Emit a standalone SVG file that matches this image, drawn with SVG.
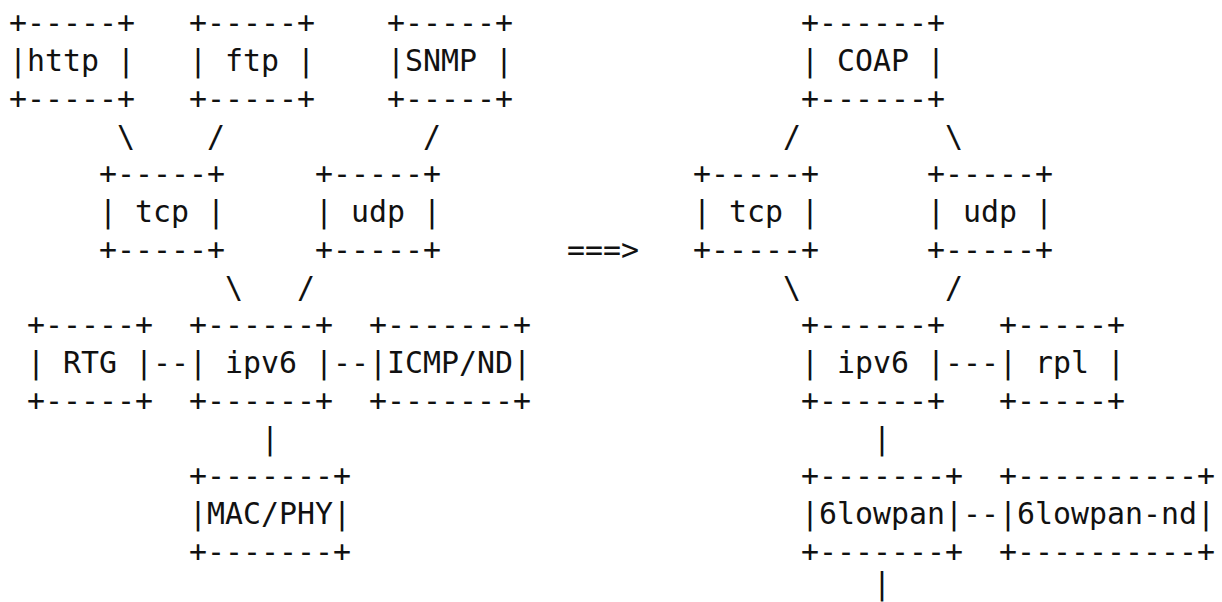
<svg xmlns="http://www.w3.org/2000/svg" width="1222" height="602" viewBox="0 0 1222 602">
<style>
text{font-family:"DejaVu Sans Mono","Liberation Mono",monospace;font-size:29.9px;fill:#111;white-space:pre}
</style>
<rect width="1222" height="602" fill="#fff"/>
<g id="http">
<text x="9" y="33.2">+-----+</text>
<text x="9" y="71">|http |</text>
<text x="9" y="108.7">+-----+</text>
</g>
<g id="ftp">
<text x="189" y="33.2">+-----+</text>
<text x="189" y="71">| ftp |</text>
<text x="189" y="108.7">+-----+</text>
</g>
<g id="snmp">
<text x="387" y="33.2">+-----+</text>
<text x="387" y="71">|SNMP |</text>
<text x="387" y="108.7">+-----+</text>
</g>
<g id="coap">
<text x="801" y="33.2">+------+</text>
<text x="801" y="71">| COAP |</text>
<text x="801" y="108.7">+------+</text>
</g>
<g id="tcp-left">
<text x="99" y="184.2">+-----+</text>
<text x="99" y="222">| tcp |</text>
<text x="99" y="259.7">+-----+</text>
</g>
<g id="udp-left">
<text x="315" y="184.2">+-----+</text>
<text x="315" y="222">| udp |</text>
<text x="315" y="259.7">+-----+</text>
</g>
<g id="tcp-right">
<text x="693" y="184.2">+-----+</text>
<text x="693" y="222">| tcp |</text>
<text x="693" y="259.7">+-----+</text>
</g>
<g id="udp-right">
<text x="927" y="184.2">+-----+</text>
<text x="927" y="222">| udp |</text>
<text x="927" y="259.7">+-----+</text>
</g>
<g id="rtg">
<text x="27" y="335.2">+-----+</text>
<text x="27" y="373">| RTG |</text>
<text x="27" y="410.7">+-----+</text>
</g>
<g id="ipv6-left">
<text x="189" y="335.2">+------+</text>
<text x="189" y="373">| ipv6 |</text>
<text x="189" y="410.7">+------+</text>
</g>
<g id="icmp-nd">
<text x="369" y="335.2">+-------+</text>
<text x="369" y="373">|ICMP/ND|</text>
<text x="369" y="410.7">+-------+</text>
</g>
<g id="ipv6-right">
<text x="801" y="335.2">+------+</text>
<text x="801" y="373">| ipv6 |</text>
<text x="801" y="410.7">+------+</text>
</g>
<g id="rpl">
<text x="999" y="335.2">+-----+</text>
<text x="999" y="373">| rpl |</text>
<text x="999" y="410.7">+-----+</text>
</g>
<g id="mac-phy">
<text x="189" y="486.2">+-------+</text>
<text x="189" y="524">|MAC/PHY|</text>
<text x="189" y="561.7">+-------+</text>
</g>
<g id="6lowpan">
<text x="801" y="486.2">+-------+</text>
<text x="801" y="524">|6lowpan|</text>
<text x="801" y="561.7">+-------+</text>
</g>
<g id="6lowpan-nd">
<text x="999" y="486.2">+----------+</text>
<text x="999" y="524">|6lowpan-nd|</text>
<text x="999" y="561.7">+----------+</text>
</g>
<g id="connectors">
<text x="117" y="146.5">\</text>
<text x="207" y="146.5">/</text>
<text x="423" y="146.5">/</text>
<text x="783" y="146.5">/</text>
<text x="945" y="146.5">\</text>
<text x="567" y="259.7">===&gt;</text>
<text x="225" y="297.5">\</text>
<text x="297" y="297.5">/</text>
<text x="783" y="297.5">\</text>
<text x="945" y="297.5">/</text>
<text x="153" y="373">--</text>
<text x="333" y="373">--</text>
<text x="945" y="373">---</text>
<text x="261" y="448.5">|</text>
<text x="873" y="448.5">|</text>
<text x="963" y="524">--</text>
<text x="873" y="594">|</text>
</g>
</svg>
